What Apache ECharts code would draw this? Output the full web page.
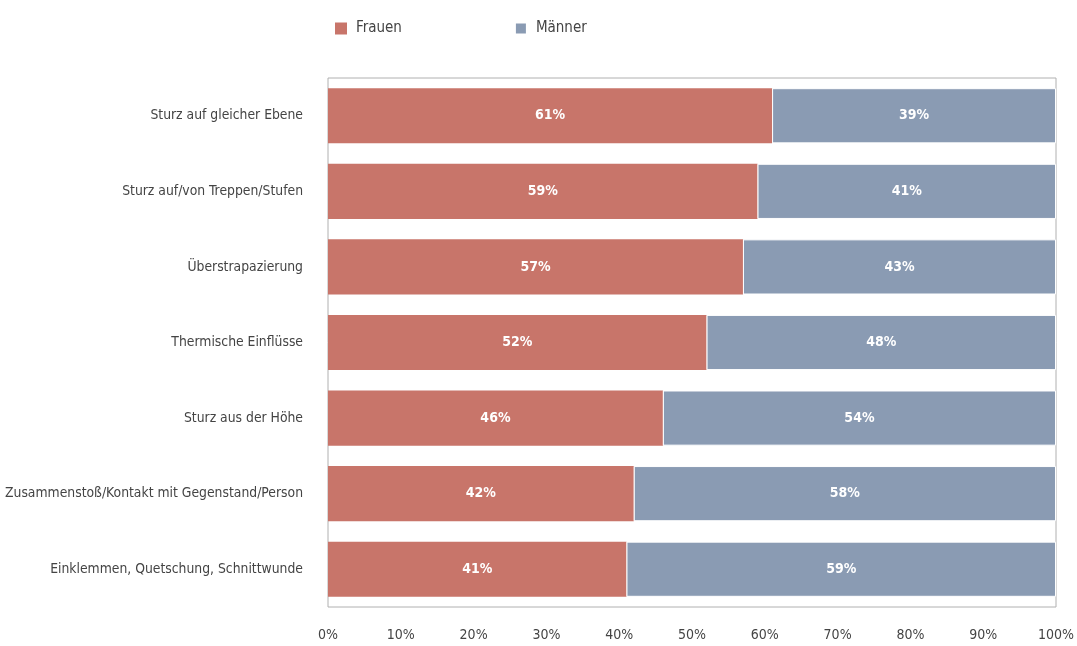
<!DOCTYPE html>
<html>
<head>
<meta charset="utf-8">
<script src="https://cdn.jsdelivr.net/npm/echarts@6/dist/echarts.min.js"></script>
<style>
html,body{margin:0;padding:0;background:#fff;}
#chart{width:1077px;height:646px;}
</style>
</head>
<body>
<div id="chart"></div>
<script>
const categories = [
  "Sturz auf gleicher Ebene",
  "Sturz auf/von Treppen/Stufen",
  "Überstrapazierung",
  "Thermische Einflüsse",
  "Sturz aus der Höhe",
  "Zusammenstoß/Kontakt mit Gegenstand/Person",
  "Einklemmen, Quetschung, Schnittwunde"
];
const frauen = [61, 59, 57, 52, 46, 42, 41];
const maenner = [39, 41, 43, 48, 54, 58, 59];
const xTicks = [0, 10, 20, 30, 40, 50, 60, 70, 80, 90, 100];

const FONT = '"DejaVu Sans Condensed", sans-serif';
const chart = echarts.init(document.getElementById('chart'));
const labelStyle = {
  show: true,
  position: 'inside',
  color: '#fff',
  fontWeight: 'bold',
  fontSize: 14,
  fontFamily: FONT,
  formatter: p => p.value + '%'
};
chart.setOption({
  animation: false,
  textStyle: { fontFamily: FONT },
  legend: {
    top: 16,
    left: 330,
    itemWidth: 12,
    itemHeight: 12,
    itemGap: 112,
    icon: 'rect',
    textStyle: { fontSize: 15, color: '#444', fontFamily: FONT, padding: [0, 0, 0, 4] },
    data: ['Frauen', 'Männer']
  },
  grid: {
    left: 328, right: 21, top: 78, bottom: 39,
    outerBoundsMode: 'none',
    containLabel: false,
    show: true, borderColor: '#b0b0b0', borderWidth: 1
  },
  xAxis: {
    type: 'value', min: 0, max: 100, interval: 10,
    axisLine: { show: false }, axisTick: { show: false },
    splitLine: { show: false },
    axisLabel: { formatter: v => xTicks.includes(v) ? v + '%' : '', fontSize: 14, color: '#444', margin: 21, fontFamily: FONT }
  },
  yAxis: {
    type: 'category', data: categories, inverse: true,
    axisLine: { show: false }, axisTick: { show: false },
    axisLabel: { fontSize: 13.8, color: '#444', margin: 25, fontFamily: FONT }
  },
  series: [
    {
      name: 'Frauen', type: 'bar', stack: 'a', data: frauen,
      barCategoryGap: '27%',
      itemStyle: { color: '#C8756A' },
      label: labelStyle
    },
    {
      name: 'Männer', type: 'bar', stack: 'a', data: maenner,
      itemStyle: { color: '#8A9BB3', borderColor: '#fff', borderWidth: 1 },
      label: labelStyle
    }
  ]
});
</script>
</body>
</html>
